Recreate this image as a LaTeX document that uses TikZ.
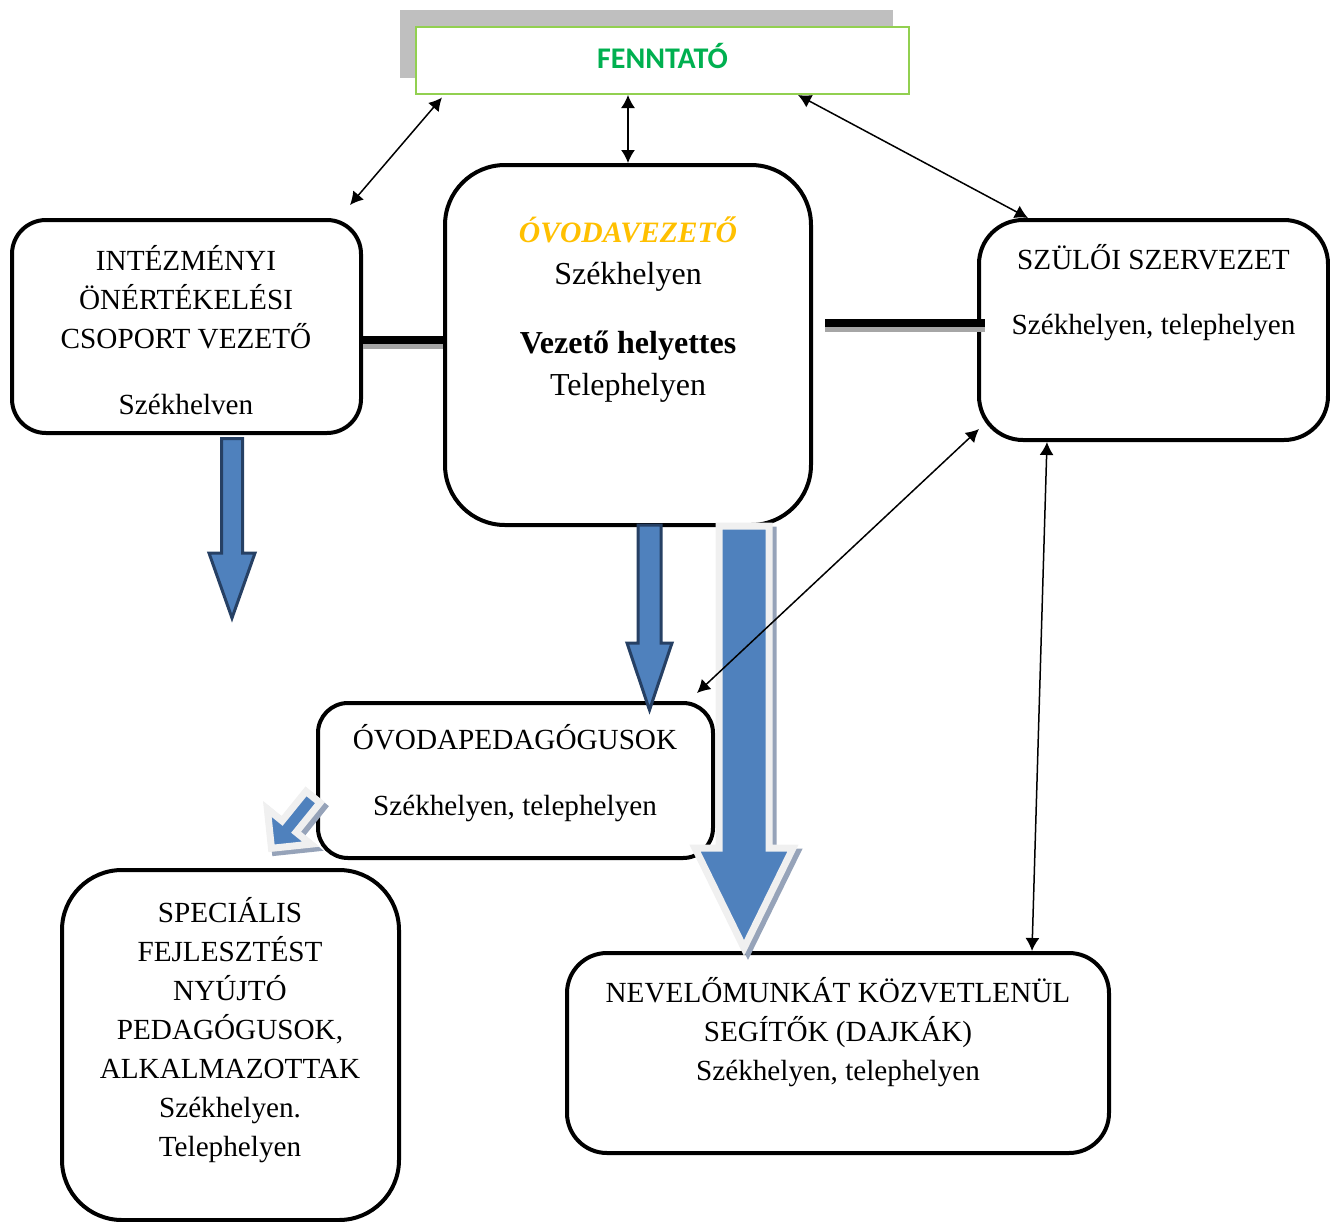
\documentclass[tikz,border=0pt]{standalone}
\usepackage{fontspec}
\setmainfont{Liberation Serif}
\newfontfamily\fennfont{Carlito}
\usetikzlibrary{arrows.meta}
\definecolor{ablue}{RGB}{79,129,189}
\definecolor{adark}{RGB}{38,64,100}
\definecolor{alight}{RGB}{240,240,240}
\definecolor{ashadow}{RGB}{150,163,185}
\definecolor{fgreen}{RGB}{0,176,80}
\definecolor{fborder}{RGB}{146,208,80}
\definecolor{fshadow}{RGB}{191,191,191}
\definecolor{vorange}{RGB}{255,192,0}
\definecolor{bargray}{RGB}{166,166,166}
\tikzset{
  box/.style={draw, line width=2pt, rounded corners=#1, fill=white},
  txt/.style={align=center, inner sep=0pt, font=\fontsize{14.6}{19.5}\selectfont},
  link/.style={<->, line width=0.75pt},
  bar/.style={line width=3.75pt},
  barshadow/.style={line width=3pt, bargray},
  darkarrow/.style={fill=ablue, draw=adark, line width=1.5pt},
  lightarrow/.style={fill=ablue, draw=alight, line width=3.5pt},
  arrowshadow/.style={fill=ashadow, draw=ashadow, line width=3.5pt}
}
\begin{document}
\begin{tikzpicture}[x=0.5pt, y=-0.5pt, >={Latex[length=6.5pt,width=7pt]}]
\useasboundingbox (0,0) rectangle (1330,1222);
% fenntarto
\fill[fshadow] (400,10) rectangle (893,78);
\node[draw=fborder, fill=white, line width=1pt, minimum width=246.5pt, minimum height=33.5pt] (fenn) at (662.5,60.5) {};
\node[font=\fennfont\bfseries\fontsize{15}{18}\selectfont, text=fgreen, inner sep=0pt] (fennT) at (662.5,56) {FENNTATÓ};
% boxes
\node[box=17pt, minimum width=174.5pt, minimum height=106.5pt] (intez) at (186.5,326.5) {};
\node[box=30pt, minimum width=183pt, minimum height=180pt] (vezeto) at (628,345) {};
\node[box=22pt, minimum width=174.5pt, minimum height=110pt] (szuloi) at (1153.5,330) {};
\node[box=15pt, minimum width=197.5pt, minimum height=77.5pt] (pedag) at (515.5,780.5) {};
\node[box=30pt, minimum width=168.5pt, minimum height=175pt] (spec) at (230.5,1045) {};
\node[box=20pt, minimum width=271pt, minimum height=100pt] (nevelo) at (838,1053) {};
% texts
\node[txt] (intezT) at (186,330) {INTÉZMÉNYI\\ ÖNÉRTÉKELÉSI\\ CSOPORT VEZETŐ\\[13.5pt] Székhelven};
\node[txt, font=\fontsize{16}{21}\selectfont] (vezetoT) at (628,309.5)
  {\textcolor{vorange}{\fontsize{14.8}{21}\selectfont\textbf{\textit{ÓVODAVEZETŐ}}}\\ Székhelyen\\[13.5pt] \textbf{Vezető helyettes}\\ Telephelyen};
\node[txt] (szuloiT) at (1153.5,292.5) {SZÜLŐI SZERVEZET\\[13pt] Székhelyen, telephelyen};
\node[txt] (pedagT) at (515,773) {ÓVODAPEDAGÓGUSOK\\[13.5pt] Székhelyen, telephelyen};
\node[txt] (specT) at (230,1030.5) {SPECIÁLIS\\ FEJLESZTÉST\\ NYÚJTÓ\\ PEDAGÓGUSOK,\\ ALKALMAZOTTAK\\ Székhelyen.\\ Telephelyen};
\node[txt] (neveloT) at (838,1032) {NEVELŐMUNKÁT KÖZVETLENÜL\\ SEGÍTŐK (DAJKÁK)\\ Székhelyen, telephelyen};
% bars
\draw[barshadow] ([yshift=-9.5pt]intez.east) -- ([yshift=-0.25pt]vezeto.west);
\draw[bar] ([yshift=-6.75pt]intez.east) -- ([yshift=2.5pt]vezeto.west);
\draw[barshadow] ([xshift=6pt,yshift=8.25pt]vezeto.east) -- ([xshift=4pt,yshift=0.75pt]szuloi.west);
\draw[bar] ([xshift=6pt,yshift=11pt]vezeto.east) -- ([xshift=4pt,yshift=3.5pt]szuloi.west);
% block arrows
\draw[darkarrow] (221.5,438.5) -- (242.5,438.5) -- (242.5,553) -- (255,553) -- (232,618) -- (209,553) -- (221.5,553) -- cycle;
\draw[darkarrow] (638,525) -- (661,525) -- (661,643) -- (672,643) -- (649.5,710) -- (627,643) -- (638,643) -- cycle;
\draw[arrowshadow, shift={(4,4)}] (719,526) -- (769,526) -- (769,848) -- (793,848) -- (744,948) -- (695,848) -- (719,848) -- cycle;
\draw[lightarrow] (719,526) -- (769,526) -- (769,848) -- (793,848) -- (744,948) -- (695,848) -- (719,848) -- cycle;
\begin{scope}[shift={(317,801)}, rotate=-39]
  \draw[arrowshadow, line width=3.5pt] (-9,0) -- (9,0) -- (9,38) -- (28,38) -- (0,66) -- (-28,38) -- (-9,38) -- cycle;
\end{scope}
\begin{scope}[shift={(313,797)}, rotate=-39]
  \draw[lightarrow] (-9,0) -- (9,0) -- (9,38) -- (28,38) -- (0,66) -- (-28,38) -- (-9,38) -- cycle;
\end{scope}
% connectors
\draw[link] ([xshift=13.5pt,yshift=-1.25pt]fenn.south west) -- ([xshift=-6.5pt,yshift=6.5pt]intez.north east);
\draw[link] (fenn.south -| vezeto.north) -- (vezeto.north);
\draw[link] ([xshift=-56pt]fenn.south east) -- ([xshift=-62.75pt]szuloi.north);
\draw[link] ([xshift=1pt,yshift=6.5pt]szuloi.south west) -- ([xshift=-9pt,yshift=4pt]pedag.north east);
\draw[link] ([xshift=-53.25pt]szuloi.south) -- ([xshift=97pt]nevelo.north);
\end{tikzpicture}
\end{document}
